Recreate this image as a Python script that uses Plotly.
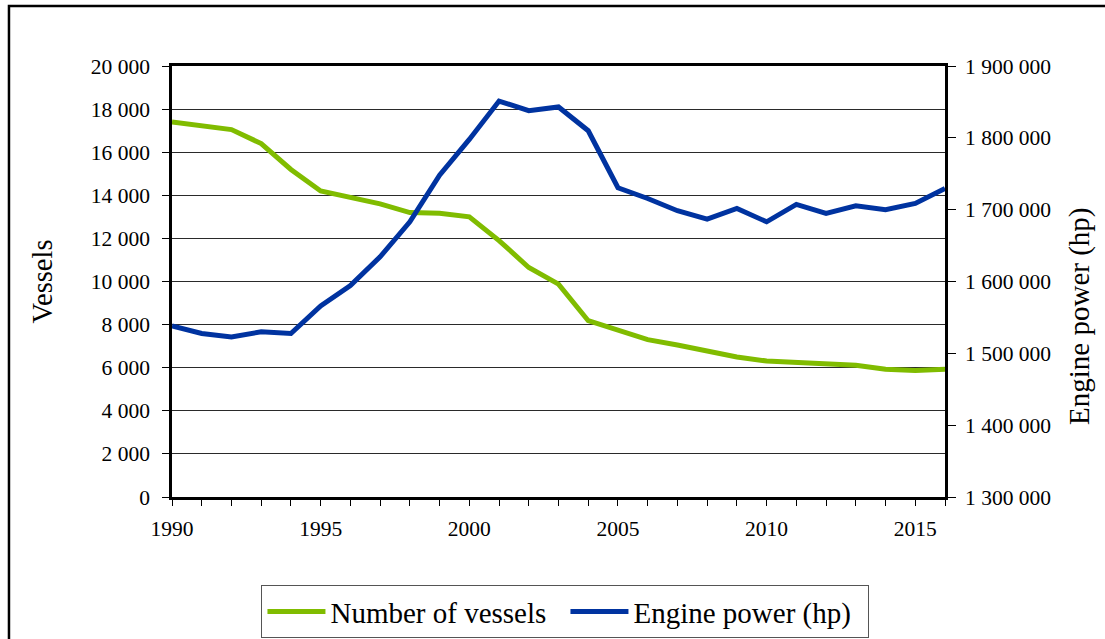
import plotly.graph_objects as go

# dados
anos = [1990, 1991, 1992, 1993, 1994, 1995, 1996, 1997, 1998, 1999, 2000, 2001, 2002,
        2003, 2004, 2005, 2006, 2007, 2008, 2009, 2010, 2011, 2012, 2013, 2014, 2015, 2016]
navios = [17400, 17200, 17050, 16400, 15200, 14200, 13900, 13600, 13200, 13170, 13000,
          11900, 10650, 9880, 8180, 7750, 7300, 7050, 6780, 6500, 6310, 6250, 6200,
          6110, 5930, 5870, 5930]
potencia = [1538000, 1527600, 1522900, 1529900, 1527600, 1566100, 1594400, 1634400,
            1683100, 1748100, 1797800, 1851200, 1837800, 1843000, 1809900, 1730500,
            1715600, 1698500, 1686800, 1701700, 1683100, 1707300, 1694700, 1705400,
            1699800, 1708700, 1729600]

FONTE = "Liberation Serif"
VERDE = "#80BC00"
AZUL = "#0033A0"

fig = go.Figure()
fig.add_trace(go.Scatter(x=anos, y=navios, mode="lines", name="Number of vessels",
                         line=dict(color=VERDE, width=5)))
fig.add_trace(go.Scatter(x=anos, y=potencia, mode="lines", name="Engine power (hp)",
                         yaxis="y2", line=dict(color=AZUL, width=5)))

fig.update_layout(
    width=1105, height=639,
    margin=dict(l=172, r=160, t=66, b=142, autoexpand=False),
    paper_bgcolor="white", plot_bgcolor="white",
    font=dict(family=FONTE, size=21.5, color="black"),
    separators=". ",
    showlegend=True,
    legend=dict(orientation="h", x=0.509, y=-0.266, xanchor="center", yanchor="middle",
                bordercolor="#555555", borderwidth=1, font=dict(size=29),
                itemwidth=58, entrywidth=230, tracegroupgap=0),
    xaxis=dict(range=[1990, 2016], tick0=1990, dtick=5, tickformat="d",
               showline=True, linecolor="black", linewidth=2.5, mirror=True,
               ticks="outside", ticklen=6, tickcolor="black", tickwidth=1,
               minor=dict(dtick=1, ticks="outside", ticklen=6, tickcolor="black"),
               showgrid=False, zeroline=False, ticklabelstandoff=4),
    yaxis=dict(range=[0, 20000], dtick=2000, tickformat=",d",
               showline=True, linecolor="black", linewidth=2.5,
               ticks="outside", ticklen=7, tickcolor="black",
               showgrid=True, gridcolor="#2a2a2a", gridwidth=1, zeroline=False,
               ticklabelstandoff=8),
    yaxis2=dict(range=[1300000, 1900000], dtick=100000, tickformat=",d",
                overlaying="y", side="right",
                showline=True, linecolor="black", linewidth=2.5,
                ticks="outside", ticklen=8, tickcolor="black",
                showgrid=False, zeroline=False, ticklabelstandoff=5),
)

# títulos dos eixos
fig.add_annotation(text="Vessels", xref="paper", yref="paper", x=-0.167, y=0.5,
                   textangle=-90, showarrow=False, font=dict(size=28.5),
                   xanchor="center", yanchor="middle")
fig.add_annotation(text="Engine power (hp)", xref="paper", yref="paper", x=1.1746, y=0.42,
                   textangle=-90, showarrow=False, font=dict(size=29),
                   xanchor="center", yanchor="middle")

# moldura externa
fig.add_shape(type="rect", xref="paper", yref="paper", x0=-0.2109, y0=-0.5, x1=1.4, y1=1.1394,
              line=dict(color="black", width=2.5), fillcolor="rgba(0,0,0,0)", layer="below")

# tira a margem padrão do body para alinhar com a imagem
fig.write_html("out.html", config={"displayModeBar": False},
               post_script="document.body.style.margin='0';")
